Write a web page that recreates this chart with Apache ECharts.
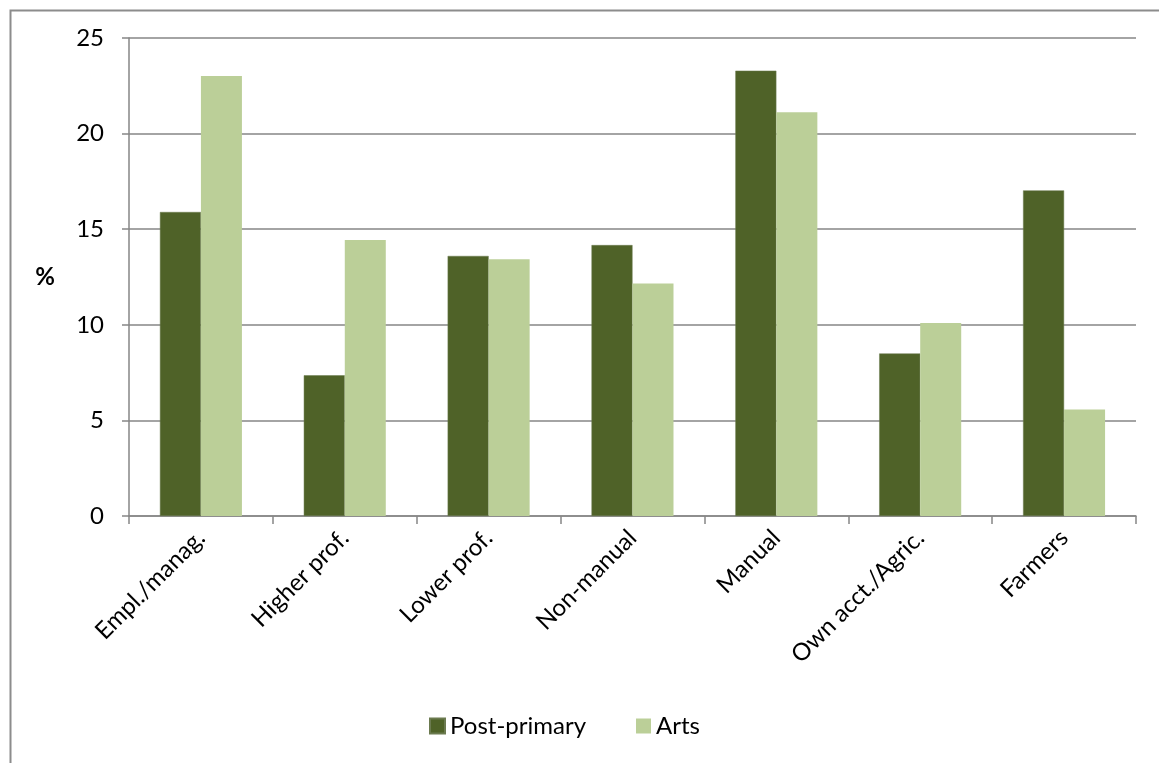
<!DOCTYPE html>
<html>
<head>
<meta charset="utf-8">
<script src="https://cdn.jsdelivr.net/npm/echarts@6/dist/echarts.min.js"></script>
<style>
html,body{margin:0;padding:0;background:#fff;}
#chart{width:1159px;height:763px;}
</style>
</head>
<body>
<div id="chart"></div>
<script>
const categories = ['Empl./manag.', 'Higher prof.', 'Lower prof.', 'Non-manual', 'Manual', 'Own acct./Agric.', 'Farmers'];
const postPrimary = [15.9, 7.36, 13.6, 14.17, 23.29, 8.5, 17.03];
const arts = [23.01, 14.43, 13.43, 12.16, 21.12, 10.1, 5.57];
const yTicks = [0, 5, 10, 15, 20, 25];

const FONT = 'Lato, "Open Sans", sans-serif';
const chart = echarts.init(document.getElementById('chart'), null, {renderer: 'canvas'});
chart.setOption({
  animation: false,
  backgroundColor: '#ffffff',
  graphic: [{
    type: 'rect', left: 8, top: 8, silent: true,
    shape: {x: 0, y: 0, width: 2000, height: 2000},
    style: {fill: 'none', stroke: '#8c8c8c', lineWidth: 2}
  }],
  grid: {left: 129, right: 23, top: 38, bottom: 247, containLabel: false},
  legend: {
    data: ['Post-primary', 'Arts'],
    left: 424, top: 709,
    itemWidth: 15, itemHeight: 15, itemGap: 50,
    icon: 'rect',
    textStyle: {fontFamily: FONT, fontSize: 24, color: '#000'}
  },
  xAxis: {
    type: 'category',
    data: categories,
    boundaryGap: true,
    axisLine: {lineStyle: {color: '#868686', width: 1.5}},
    axisTick: {show: true, alignWithLabel: false, length: 8, lineStyle: {color: '#868686', width: 1.5}},
    axisLabel: {rotate: 45, interval: 0, margin: 18, fontFamily: FONT, fontSize: 24, color: '#000'},
    splitLine: {show: false}
  },
  yAxis: {
    type: 'value',
    min: yTicks[0], max: yTicks[yTicks.length - 1], interval: 5,
    name: '%', nameLocation: 'middle', nameRotate: 0, nameGap: 74,
    nameTextStyle: {fontFamily: FONT, fontSize: 24, fontWeight: 'bold', color: '#000'},
    axisLine: {show: true, lineStyle: {color: '#868686', width: 1.5}},
    axisTick: {show: true, inside: false, length: 7, lineStyle: {color: '#868686', width: 1.5}},
    axisLabel: {margin: 25, fontFamily: FONT, fontSize: 24, color: '#000'},
    splitLine: {show: true, lineStyle: {color: '#868686', width: 1.5}}
  },
  series: [
    {name: 'Post-primary', type: 'bar', data: postPrimary, barGap: '0%', barCategoryGap: '43%',
     itemStyle: {color: '#4F6228', borderColor: '#6b7a4f', borderWidth: 0.5}},
    {name: 'Arts', type: 'bar', data: arts, barGap: '0%', barCategoryGap: '43%',
     itemStyle: {color: '#BBCF98'}}
  ]
});
</script>
</body>
</html>
